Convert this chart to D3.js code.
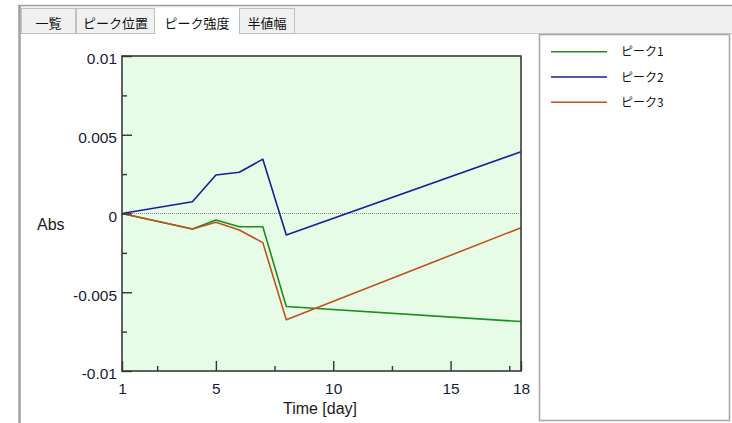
<!DOCTYPE html>
<html>
<head>
<meta charset="utf-8">
<script src="https://cdn.jsdelivr.net/npm/d3@7"></script>
<style>
  html, body { margin: 0; padding: 0; background: #fff; }
  svg { display: block; }
</style>
</head>
<body>
<svg id="chart" width="732" height="423"></svg>
<script>
// ---- data ----
const days = [1, 4, 5, 6, 7, 8, 18];
const peak1 = [0, -0.00098, -0.00041, -0.00084, -0.00084, -0.0059, -0.00686];
const peak2 = [0, 0.00075, 0.00244, 0.00262, 0.00345, -0.00136, 0.00392];
const peak3 = [0, -0.00098, -0.00056, -0.00105, -0.00185, -0.00675, -0.0009];
const seriesNames = ["ピーク1", "ピーク2", "ピーク3"];
const tabLabels = ["一覧", "ピーク位置", "ピーク強度", "半値幅"];
const xTicks = [1, 5, 10, 15, 18];
const xMinorTicks = [2.5, 7.5, 12.5, 17.5];
const yTicks = [-0.01, -0.005, 0, 0.005, 0.01];
const yTickLabels = ["-0.01", "-0.005", "0", "0.005", "0.01"];
const yMinorTicks = [-0.0075, -0.0025, 0.0025, 0.0075];

const colors = ["#1a8f1a", "#1c1c9a", "#c0501e"];
const svg = d3.select("#chart");

// ---- window chrome ----
svg.append("rect").attr("x", 18).attr("y", 5).attr("width", 714).attr("height", 28).attr("fill", "#f0f0f0");
svg.append("line").attr("x1", 18).attr("x2", 732).attr("y1", 5.5).attr("y2", 5.5).attr("stroke", "#a0a0a0").attr("stroke-width", 1.5);
svg.append("line").attr("x1", 19.5).attr("x2", 19.5).attr("y1", 5).attr("y2", 423).attr("stroke", "#a0a0a0").attr("stroke-width", 2.5);
svg.append("line").attr("x1", 21).attr("x2", 732).attr("y1", 33.5).attr("y2", 33.5).attr("stroke", "#d0d0d0").attr("stroke-width", 1);

const tabs = [
  {x0: 21, x1: 76}, {x0: 76, x1: 155}, {x0: 155, x1: 239}, {x0: 239, x1: 295}
];
tabs.forEach((t, i) => {
  const sel = i === 2;
  svg.append("rect")
    .attr("x", t.x0 + 0.5).attr("y", sel ? 7.5 : 8.5)
    .attr("width", t.x1 - t.x0 - 1).attr("height", sel ? 27 : 25)
    .attr("fill", sel ? "#ffffff" : "#f0f0f0")
    .attr("stroke", sel ? "none" : "#c0c0c0");
  svg.append("text")
    .attr("x", (t.x0 + t.x1) / 2).attr("y", 28)
    .attr("text-anchor", "middle")
    .attr("font-family", "'Noto Sans CJK JP', sans-serif")
    .attr("font-size", 13).attr("fill", "#111")
    .text(tabLabels[i]);
});

// ---- plot ----
const x = d3.scaleLinear().domain([1, 18]).range([122, 521]);
const y = d3.scaleLinear().domain([-0.01, 0.01]).range([371, 56]);

svg.append("rect")
  .attr("x", x(1)).attr("y", y(0.01))
  .attr("width", x(18) - x(1)).attr("height", y(-0.01) - y(0.01))
  .attr("fill", "#e6fce6");

// zero line
svg.append("line")
  .attr("x1", x(1)).attr("x2", x(18)).attr("y1", y(0)).attr("y2", y(0))
  .attr("stroke", "#8a8a8a").attr("stroke-width", 1).attr("stroke-dasharray", "1,1");

const series = [peak1, peak2, peak3];
const line = d3.line().x((d, i) => x(days[i])).y(d => y(d));
series.forEach((s, k) => {
  svg.append("path").datum(s)
    .attr("d", line).attr("fill", "none")
    .attr("stroke", colors[k]).attr("stroke-width", 1.6)
    .attr("stroke-linejoin", "round");
});

// border
svg.append("rect")
  .attr("x", x(1)).attr("y", y(0.01))
  .attr("width", x(18) - x(1)).attr("height", y(-0.01) - y(0.01))
  .attr("fill", "none").attr("stroke", "#3a3a3a").attr("stroke-width", 1.6);

const fontTick = "'Liberation Sans', Arial, sans-serif";

// x axis
const xAxis = svg.append("g").attr("transform", `translate(0,${y(-0.01)})`)
  .call(d3.axisBottom(x).tickValues(xTicks).tickSize(-10).tickPadding(12).tickFormat(d3.format("d")));
const xMinor = svg.append("g").attr("transform", `translate(0,${y(-0.01)})`)
  .call(d3.axisBottom(x).tickValues(xMinorTicks).tickSize(-5).tickFormat(""));

// y axis
const yAxis = svg.append("g").attr("transform", `translate(${x(1)},0)`)
  .call(d3.axisLeft(y).tickValues(yTicks).tickSize(-10).tickPadding(5)
    .tickFormat((d, i) => yTickLabels[i]));
const yMinor = svg.append("g").attr("transform", `translate(${x(1)},0)`)
  .call(d3.axisLeft(y).tickValues(yMinorTicks).tickSize(-5).tickFormat(""));

[xAxis, xMinor, yAxis, yMinor].forEach(g => {
  g.select(".domain").remove();
  g.selectAll(".tick line").attr("stroke", "#333").attr("stroke-width", 1.4);
  g.selectAll("text").attr("font-family", fontTick).attr("font-size", 15.5).attr("fill", "#1a1a38");
});
yAxis.selectAll("text").attr("dy", "0.5em");

// axis titles
svg.append("text").attr("x", 37).attr("y", 230)
  .attr("font-family", fontTick).attr("font-size", 16).attr("fill", "#1a1a1a").text("Abs");
svg.append("text").attr("x", 320).attr("y", 414).attr("text-anchor", "middle")
  .attr("font-family", fontTick).attr("font-size", 16).attr("fill", "#1a1a1a").text("Time [day]");

// ---- legend ----
svg.append("rect").attr("x", 539.5).attr("y", 34.5).attr("width", 190).attr("height", 386)
  .attr("fill", "#fff").attr("stroke", "#a8a8a8").attr("stroke-width", 1.6);
seriesNames.forEach((name, k) => {
  const ly = 51.7 + k * 25.3;
  svg.append("line").attr("x1", 551).attr("x2", 607).attr("y1", ly).attr("y2", ly)
    .attr("stroke", colors[k]).attr("stroke-width", 1.4);
  svg.append("text").attr("x", 621).attr("y", ly + 4.5)
    .attr("font-family", "'Noto Sans CJK JP', sans-serif").attr("font-size", 12)
    .attr("fill", "#111").text(name);
});
</script>
</body>
</html>
